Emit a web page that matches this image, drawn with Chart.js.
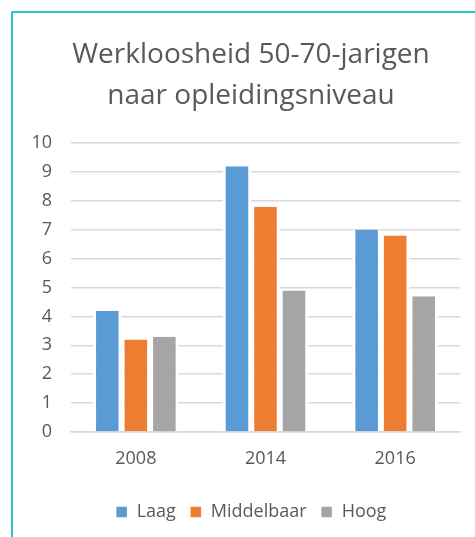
<!DOCTYPE html>
<html>
<head>
<meta charset="utf-8">
<script src="https://cdn.jsdelivr.net/npm/chart.js@4"></script>
<style>
  body { margin: 0; background: #fff; }
  #frame {
    position: absolute; left: 11px; top: 11px; width: 478px; height: 530px;
    border-left: 2px solid #26C6D3; border-top: 2px solid #26C6D3;
  }
  #box { position: absolute; left: 0; top: 0; width: 476px; height: 524px; }
</style>
</head>
<body>
<div id="frame"><div id="box"><canvas id="myChart"></canvas></div></div>
<script>
const years = ["2008", "2014", "2016"];
const laag = [4.2, 9.2, 7.0];
const middelbaar = [3.2, 7.8, 6.8];
const hoog = [3.3, 4.9, 4.7];
const titleLines = ["Werkloosheid 50-70-jarigen", "naar opleidingsniveau"];

const textColor = "#595959";
const font = "'Open Sans', sans-serif";
const gap = { left: 3, right: 3, top: 0, bottom: 0 };

function series(label, data, color) {
  return {
    label: label,
    data: data,
    backgroundColor: color,
    borderColor: "#ffffff",
    borderWidth: gap,
    borderSkipped: false
  };
}

new Chart("myChart", {
  type: "bar",
  data: {
    labels: years,
    datasets: [
      series("Laag", laag, "#5B9BD5"),
      series("Middelbaar", middelbaar, "#ED7D31"),
      series("Hoog", hoog, "#A5A5A5")
    ]
  },
  options: {
    responsive: true,
    maintainAspectRatio: false,
    animation: false,
    categoryPercentage: 0.66,
    barPercentage: 1,
    layout: { padding: { left: 0, right: 0, top: 0, bottom: 6 } },
    plugins: {
      title: {
        display: true,
        text: titleLines,
        color: textColor,
        font: { family: font, size: 28, weight: "normal", lineHeight: 1.45 },
        padding: { top: 22, bottom: 27 }
      },
      legend: {
        position: "bottom",
        labels: {
          color: textColor,
          font: { family: font, size: 18 },
          boxWidth: 12,
          boxHeight: 12,
          padding: 14
        }
      },
      tooltip: { enabled: false }
    },
    scales: {
      x: {
        grid: { display: false, drawTicks: false },
        border: { color: "#D9D9D9", width: 1.5 },
        ticks: { color: textColor, font: { family: font, size: 18 }, padding: 16 },
        afterFit: function(scale) { scale.height = 57; }
      },
      y: {
        min: 0,
        max: 10,
        ticks: { stepSize: 1, color: textColor, font: { family: font, size: 18 }, padding: 19 },
        grid: { color: "#D9D9D9", lineWidth: 1.5, drawTicks: false },
        border: { display: false },
        afterFit: function(scale) { scale.width = 58; }
      },
      // empty right axis, only keeps the right margin of the plot
      spacer: {
        position: "right",
        ticks: { display: false },
        grid: { display: false, drawTicks: false },
        border: { display: false },
        afterFit: function(scale) { scale.width = 29; }
      }
    }
  }
});
</script>
</body>
</html>
